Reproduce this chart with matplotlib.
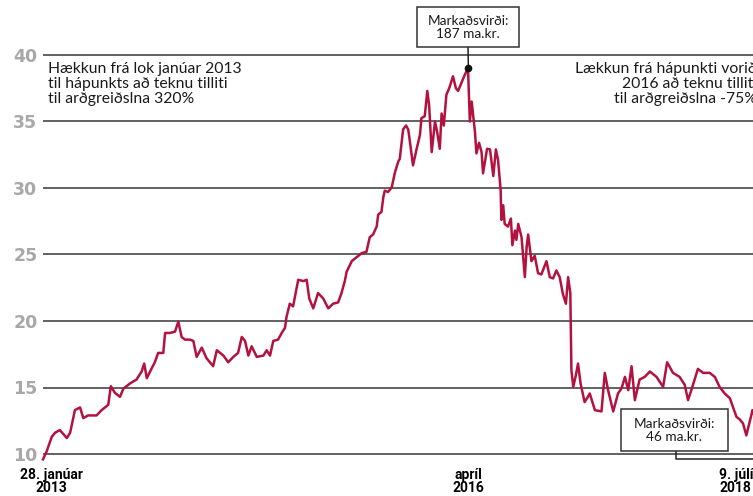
import pandas as pd
import matplotlib
matplotlib.use("Agg")
import matplotlib.pyplot as plt
from matplotlib.patches import Rectangle

# ---------------------------------------------------------------------------
# Data: index (adjusted for dividends)
# ---------------------------------------------------------------------------
start = pd.Timestamp("2013-01-28")
end = pd.Timestamp("2018-07-09")

# days after 28 Jan 2013
days = [
    0, 10, 24, 33, 46, 65, 74, 87, 101, 110, 123, 146, 160, 178, 185, 196,
    210, 219, 237, 255, 269, 276, 283, 292, 305, 314, 328, 333, 346, 360,
    369, 378, 387, 401, 410, 419, 433, 446, 464, 474, 492, 505, 519, 532,
    542, 551, 560, 569, 583, 601, 610, 619, 628, 641, 651, 660, 664, 673,
    682, 687, 696, 710, 719, 726, 737, 750, 764, 778, 791, 805, 814, 823,
    828, 842, 860, 869, 882, 891, 900, 910, 914, 923, 928, 932, 941, 951,
    960, 969, 973, 978, 982, 990, 996, 1000, 1009, 1019, 1028, 1032, 1041,
    1048, 1053, 1060, 1069, 1075, 1082, 1087, 1093, 1100, 1109, 1118, 1126,
    1132, 1141, 1150, 1159, 1164, 1169, 1178, 1182, 1189, 1196, 1200, 1211,
    1219, 1228, 1235, 1241, 1248, 1250, 1255, 1259, 1268, 1276, 1280, 1287,
    1291, 1296, 1305, 1314, 1319, 1323, 1332, 1341, 1350, 1359, 1373, 1382,
    1391, 1400, 1409, 1418, 1426, 1432, 1438, 1441, 1446, 1453, 1459, 1466,
    1477, 1486, 1491, 1505, 1523, 1532, 1541, 1555, 1568, 1578, 1587, 1596,
    1605, 1614, 1627, 1641, 1655, 1673, 1691, 1702, 1718, 1736, 1750, 1759,
    1768, 1786, 1800, 1818, 1832, 1845, 1859, 1873, 1891, 1900, 1909, 1918,
    1927, 1935, 1988,
]
values = [
    9.6, 10.2, 11.3, 11.6, 11.8, 11.2, 11.6, 13.3, 13.5, 12.7, 12.9, 12.9,
    13.3, 13.7, 15.1, 14.6, 14.3, 14.9, 15.3, 15.6, 16.2, 16.8, 15.7, 16.2,
    16.9, 17.6, 17.6, 19.1, 19.1, 19.2, 19.95, 18.8, 18.6, 18.6, 18.5, 17.3,
    18.0, 17.2, 16.6, 17.8, 17.4, 16.9, 17.3, 17.6, 18.8, 18.5, 17.4, 18.1,
    17.3, 17.4, 17.8, 17.4, 18.5, 18.6, 19.1, 19.5, 20.3, 21.3, 21.1, 21.8,
    23.1, 23.0, 23.1, 21.7, 20.95, 22.1, 21.7, 20.95, 21.3, 21.4, 22.1, 23.0,
    23.7, 24.5, 24.9, 25.1, 25.2, 26.3, 26.5, 27.1, 28.0, 28.2, 29.3, 29.8,
    29.7, 30.05, 31.2, 32.0, 32.2, 33.4, 34.4, 34.7, 34.4, 33.6, 31.7, 32.95,
    34.0, 35.25, 35.4, 37.3, 36.2, 32.7, 35.0, 34.2, 32.95, 35.6, 34.7, 37.0,
    37.6, 38.4, 37.5, 37.3, 37.9, 38.5, 39.0, 35.0, 36.5, 34.2, 32.6, 33.4,
    32.7, 31.1, 32.95, 32.9, 30.9, 32.9, 32.1, 29.85, 27.6, 28.7, 27.3, 27.1,
    27.7, 25.7, 26.8, 26.1, 27.3, 26.3, 23.3, 25.6, 26.5, 24.5, 24.9, 23.6,
    23.5, 24.5, 23.3, 23.2, 23.8, 23.3, 22.0, 21.3, 23.3, 22.1, 16.3, 15.05,
    15.9, 16.8, 15.3, 13.9, 14.3, 14.55, 13.3, 13.2, 16.1, 14.8, 13.2, 14.55,
    14.95, 15.8, 14.8, 16.6, 14.05, 15.6, 15.8, 16.2, 15.8, 15.05, 16.9, 16.1,
    15.8, 15.2, 14.05, 14.8, 16.4, 16.1, 16.1, 15.8, 15.05, 14.55, 14.2, 12.8,
    12.6, 12.3, 11.4, 12.4, 13.3, 9.6,
]

peak_date = pd.Timestamp("2016-04-02")
peak_value = 39.0
yticks = [10, 15, 20, 25, 30, 35, 40]

x_labels = ["28. janúar\n2013", "apríl\n2016", "9. júlí\n2018"]
x_label_dates = [start, pd.Timestamp("2016-04-01"), end]

note_up = "Hækkun frá lok janúar 2013\ntil hápunkts að teknu tilliti\ntil arðgreiðslna 320%"
note_down = "Lækkun frá hápunkti vorið\n2016 að teknu tilliti\ntil arðgreiðslna -75%"
box_peak = "Markaðsvirði:\n187 ma.kr."
box_end = "Markaðsvirði:\n46 ma.kr."

LINE = "#b3123f"
GRID = "#555555"
W, H = 753, 496


def fx(x):
    return x / W


def fy(y):
    return 1 - y / H


dates = start + pd.to_timedelta(days, unit="D")

fig = plt.figure(figsize=(7.53, 4.96), dpi=100)
ax = fig.add_axes([fx(43), fy(467.3), fx(772) - fx(43), (467.3 - 41.7) / H])
ax.set_xlim(start, end)
ax.set_ylim(9, 41)

ax.plot(dates, values, color=LINE, lw=1.8, clip_on=False, zorder=3,
        solid_joinstyle="round")

# grid / axes
for s in ax.spines.values():
    s.set_visible(False)
ax.set_xticks([])
ax.set_yticks(yticks)
ax.set_yticklabels([str(t) for t in yticks], fontweight="bold",
                   fontsize=12.5, color="#a8a8a8", family="DejaVu Sans")
ax.tick_params(axis="y", length=0, pad=4)
ax.yaxis.grid(True, color=GRID, lw=1.3)
ax.set_axisbelow(True)

# x labels
offsets = [6, 0, -26]
for lab, d, dx in zip(x_labels, x_label_dates, offsets):
    ax.annotate(lab, xy=(d, 0), xycoords=("data", "axes fraction"),
                xytext=(dx, -0.5), textcoords="offset points",
                ha="center", va="top", fontsize=10, fontweight="bold",
                family="Roboto", linespacing=0.95, annotation_clip=False)

# notes
fig.text(fx(48), fy(62.5), note_up, ha="left", va="top", fontsize=11.3,
         family="Lato", linespacing=1.05, color="#1a1a1a")
fig.text(fx(757), fy(62.5), note_down, ha="right", va="top", fontsize=11.3,
         family="Lato", linespacing=1.05, color="#1a1a1a", multialignment="right")

# peak box
fig.patches.append(Rectangle((fx(417), fy(47)), fx(519) - fx(417), fy(7) - fy(47),
                             transform=fig.transFigure, facecolor="white",
                             edgecolor="#333333", lw=1.1, zorder=5))
fig.text(fx(468), fy(27.5), box_peak, ha="center", va="center", fontsize=9.8,
         family="Lato", linespacing=1.05, color="#1a1a1a", zorder=6)
ax.annotate("", xy=(peak_date, peak_value), xytext=(fx(468), fy(47)),
            textcoords="figure fraction",
            arrowprops=dict(arrowstyle="-", color="#222222", lw=1.1,
                            shrinkA=0, shrinkB=0), annotation_clip=False)
ax.plot([peak_date], [peak_value], "o", color="#111111", ms=4.5, zorder=4)

# end box
fig.patches.append(Rectangle((fx(621), fy(451)), fx(728) - fx(621), fy(409) - fy(451),
                             transform=fig.transFigure, facecolor="white",
                             edgecolor="#333333", lw=1.1, zorder=5))
fig.text(fx(674.5), fy(430.5), box_end, ha="center", va="center", fontsize=9.8,
         family="Lato", linespacing=1.05, color="#1a1a1a", zorder=6)
ax.annotate("", xy=(end, values[-1]), xytext=(fx(676), fy(451)),
            textcoords="figure fraction",
            arrowprops=dict(arrowstyle="-", color="#222222", lw=1.1,
                            shrinkA=0, shrinkB=0,
                            connectionstyle="angle,angleA=90,angleB=0,rad=0"),
            annotation_clip=False)

fig.savefig("out.png", dpi=100)
